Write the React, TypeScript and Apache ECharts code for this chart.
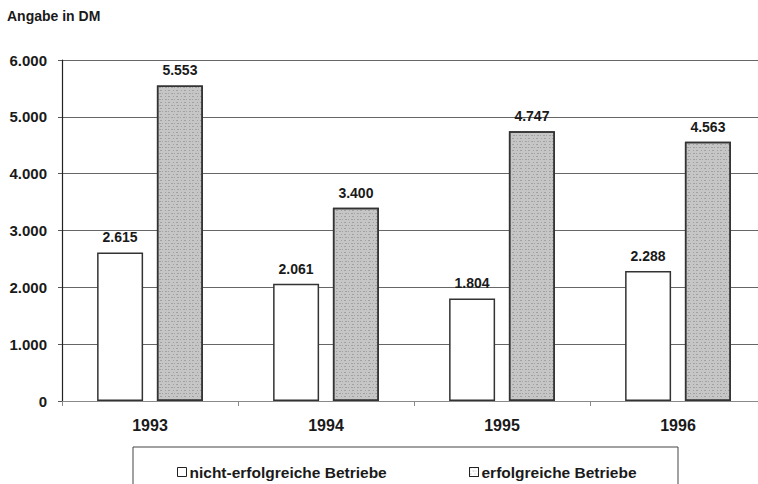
import React, { useEffect, useRef } from "react";
import * as echarts from "echarts";

const years = ["1993", "1994", "1995", "1996"];
const nichtErfolgreich = [2615, 2061, 1804, 2288];
const erfolgreich = [5553, 3400, 4747, 4563];
const yTicks = [0, 1000, 2000, 3000, 4000, 5000, 6000];

const FONT = "Liberation Sans, Arial, Helvetica, sans-serif";

function fmt(v: number): string {
  const s = String(Math.round(v));
  if (s.length <= 3) return s;
  return s.slice(0, s.length - 3) + "." + s.slice(s.length - 3);
}

export default function App() {
  const ref = useRef<HTMLDivElement>(null);
  useEffect(() => {
    if (!ref.current) return;
    const chart = echarts.init(ref.current, undefined, { renderer: "svg" });
    const labelStyle = {
      show: true,
      position: "top" as const,
      distance: 8,
      fontFamily: FONT,
      fontWeight: "bold" as const,
      fontSize: 14,
      color: "#1a1a1a",
      formatter: (p: any) => fmt(p.value),
    };
    const legendText = {
      fontFamily: FONT,
      fontWeight: "bold" as const,
      fontSize: 15.5,
      color: "#1a1a1a",
      padding: [0, 0, 0, -2],
    };
    chart.setOption({
      animation: false,
      backgroundColor: "#ffffff",
      grid: { left: 62, right: 0, top: 60, bottom: 83, containLabel: false },
      graphic: [
        {
          type: "text",
          left: 7,
          top: 9,
          style: {
            text: "Angabe in DM",
            fontFamily: FONT,
            fontWeight: "bold",
            fontSize: 14,
            fill: "#1a1a1a",
          },
        },
        {
          type: "rect",
          shape: { x: 133, y: 447, width: 545, height: 60 },
          style: { fill: "none", stroke: "#444", lineWidth: 1 },
        },
      ],
      legend: [
        {
          left: 172,
          top: 459,
          itemWidth: 9,
          itemHeight: 9,
          data: [
            {
              name: "nicht-erfolgreiche Betriebe",
              icon: "rect",
              itemStyle: { color: "#ffffff", borderColor: "#222", borderWidth: 1 },
            },
          ],
          textStyle: legendText,
          selectedMode: false,
        },
        {
          left: 464,
          top: 459,
          itemWidth: 9,
          itemHeight: 9,
          data: [
            {
              name: "erfolgreiche Betriebe",
              icon: "rect",
              itemStyle: { color: "#ffffff", borderColor: "#222", borderWidth: 1 },
            },
          ],
          textStyle: legendText,
          selectedMode: false,
        },
      ],
      xAxis: {
        type: "category",
        data: years,
        axisLine: { show: true, lineStyle: { color: "#8a8a8a", width: 1 } },
        axisTick: { show: true, length: 5, lineStyle: { color: "#8a8a8a" } },
        axisLabel: {
          margin: 16,
          fontFamily: FONT,
          fontWeight: "bold",
          fontSize: 16,
          color: "#1a1a1a",
        },
      },
      yAxis: {
        type: "value",
        min: yTicks[0],
        max: yTicks[yTicks.length - 1],
        interval: 1000,
        axisLine: { show: true, lineStyle: { color: "#222", width: 1.2 } },
        axisTick: { show: true, length: 4, lineStyle: { color: "#555" } },
        splitLine: { show: true, lineStyle: { color: "#666", width: 1 } },
        axisLabel: {
          margin: 15,
          fontFamily: FONT,
          fontWeight: "bold",
          fontSize: 15,
          color: "#1a1a1a",
          formatter: (v: number) => fmt(v),
        },
      },
      series: [
        {
          name: "nicht-erfolgreiche Betriebe",
          type: "bar",
          data: nichtErfolgreich,
          barWidth: 46,
          barGap: "30%",
          itemStyle: { color: "#ffffff", borderColor: "#333", borderWidth: 1.5 },
          label: labelStyle,
        },
        {
          name: "erfolgreiche Betriebe",
          type: "bar",
          data: erfolgreich,
          barWidth: 46,
          itemStyle: {
            color: "#c6c6c6",
            borderColor: "#333",
            borderWidth: 1.5,
            decal: {
              symbol: "rect",
              symbolSize: 1,
              color: "rgba(90,90,90,0.35)",
              dashArrayX: [[1, 2, 2, 1], [2, 3, 1, 2]],
              dashArrayY: [1, 2],
              rotation: 0,
            },
          },
          label: labelStyle,
        },
      ],
    });
    return () => chart.dispose();
  }, []);
  return (
    <div style={{ width: 758, height: 484, position: "absolute", left: 0, top: 0, overflow: "hidden", background: "#fff" }}>
      <div ref={ref} style={{ width: 766, height: 484 }} />
    </div>
  );
}
